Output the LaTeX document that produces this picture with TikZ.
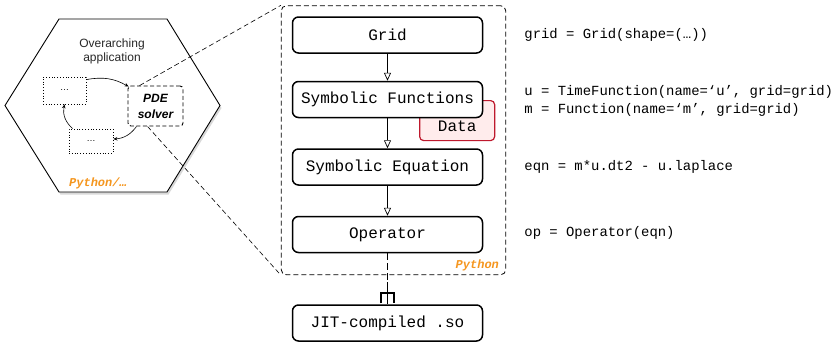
\documentclass[tikz,border=0pt]{standalone}
\usepackage{fontspec}
\setsansfont{Liberation Sans}
\setmonofont{Liberation Mono}
\usetikzlibrary{arrows.meta, positioning, fit, backgrounds, shadows}

\definecolor{pyorange}{RGB}{245,150,30}
\definecolor{datared}{RGB}{190,25,45}
\definecolor{datafill}{RGB}{255,236,236}
\definecolor{hextext}{RGB}{40,40,40}

\begin{document}
\begin{tikzpicture}[
    x=1pt, y=1pt,
    block/.style={draw, line width=1.5pt, rounded corners=6pt, fill=white,
        minimum width=190pt, minimum height=36pt,
        font=\ttfamily\fontsize{16}{19}\selectfont},
    datablock/.style={draw=datared, fill=datafill, line width=1.2pt, rounded corners=4pt,
        minimum width=75pt, inner xsep=0pt, inner ysep=4pt, text height=27pt, text depth=5pt,
        font=\ttfamily\fontsize{16}{19}\selectfont},
    pybox/.style={draw, dash pattern=on 5pt off 3pt, line width=0.8pt, rounded corners=5pt, inner sep=10.5pt},
    pytag/.style={text=pyorange, inner sep=0pt, font=\ttfamily\bfseries\itshape\fontsize{12}{14}\selectfont},
    code/.style={inner sep=0pt, align=left, font=\ttfamily\fontsize{13.9}{18}\selectfont},
    flow/.style={-{Triangle[open, length=8pt, width=7pt]}, line width=0.7pt},
    dotbox/.style={draw, dotted, line width=0.8pt, font=\sffamily\fontsize{9}{10}\selectfont},
    solverbox/.style={draw, dash pattern=on 4pt off 2.5pt, line width=0.9pt, rounded corners=3pt,
        minimum width=55pt, minimum height=40pt, align=center,
        font=\sffamily\bfseries\itshape\fontsize{12}{16}\selectfont},
    cyclearrow/.style={-{Stealth[length=4pt, width=3.5pt]}, line width=0.6pt},
    zoomline/.style={dash pattern=on 5pt off 3pt, line width=0.6pt}
]
\useasboundingbox (0,0) rectangle (838,-346);

% Overarching application
\draw[line width=0.9pt, fill=white, drop shadow={shadow xshift=1.5pt, shadow yshift=-2.5pt, opacity=0.3}]
    (59,-19) -- (167,-19) -- (220,-105.5) -- (167,-192) -- (59,-192) -- (5,-105.5) -- cycle;
\node[align=center, text=hextext, font=\sffamily\fontsize{12}{14}\selectfont] (app) at (112,-51) {Overarching\\application};
\node[dotbox, minimum width=43pt, minimum height=27pt] (first) at (64.5,-90.5) {\ldots};
\node[dotbox, minimum width=44pt, minimum height=24pt] (second) at (91,-141) {\ldots};
\node[solverbox] (pde) at (155.5,-106) {PDE\\solver};
\node[pytag] (pyany) at (98,-183) {Python/…};

\draw[cyclearrow] ([yshift=-3pt]first.north east) to[bend left=20] ([xshift=1pt,yshift=-1pt]pde.north west);
\draw[cyclearrow] ([xshift=9pt]pde.south west) to[bend left=25] ([yshift=2pt]second.east);
\draw[cyclearrow] ([xshift=4pt]second.north west) to[bend left=30] (first.south);

% Python stack
\node[block] (grid) at (387.5,-35) {Grid};
\node[block, below=27pt of grid] (symf) {Symbolic Functions};
\node[block, below=30pt of symf] (symeq) {Symbolic Equation};
\node[block, below=30pt of symeq] (op) {Operator};
\node[block, below=51pt of op] (jit) {JIT-compiled .so};

\coordinate (pybottom) at ([yshift=-11pt]op.south);
\begin{scope}[on background layer]
\node[datablock, anchor=north east] (data) at ([xshift=12pt,yshift=-0.5pt]symf.east) {Data};
\node[pybox, fit=(grid)(data)(op)(pybottom)] (python) {};
\end{scope}
\node[pytag, anchor=south east] (pyname) at ([xshift=-7pt,yshift=4pt]python.south east) {Python};

\draw[flow] (grid) -- (symf);
\draw[flow] (symf) -- (symeq);
\draw[flow] (symeq) -- (op);

% Operator to compiled code
\coordinate (fork) at ([yshift=22pt]jit.north);
\draw[line width=1.2pt, dash pattern=on 7pt off 3pt] (op) -- (fork);
\draw[line width=1.6pt] (fork) -- (jit.north);
\draw[line width=1.6pt] ([xshift=-6.5pt,yshift=1pt]jit.north) -- ++(0pt,10pt) -- ++(13pt,0pt) -- ++(0pt,-10pt);

% Zoom lines
\draw[zoomline] ([xshift=12pt]pde.north west) -- (python.north west);
\draw[zoomline] ([xshift=20pt]pde.south west) -- (python.south west);

% Code
\node[code, right=41pt of grid] (gridcode) {grid = Grid(shape=(…))};
\node[code, right=41pt of symf, yshift=-1.5pt] (symfcode) {u = TimeFunction(name=‘u’, grid=grid)\\m = Function(name=‘m’, grid=grid)};
\node[code, right=41pt of symeq] (eqcode) {eqn = m*u.dt2 - u.laplace};
\node[code, right=41pt of op, yshift=2pt] (opcode) {op = Operator(eqn)};
\end{tikzpicture}
\end{document}
